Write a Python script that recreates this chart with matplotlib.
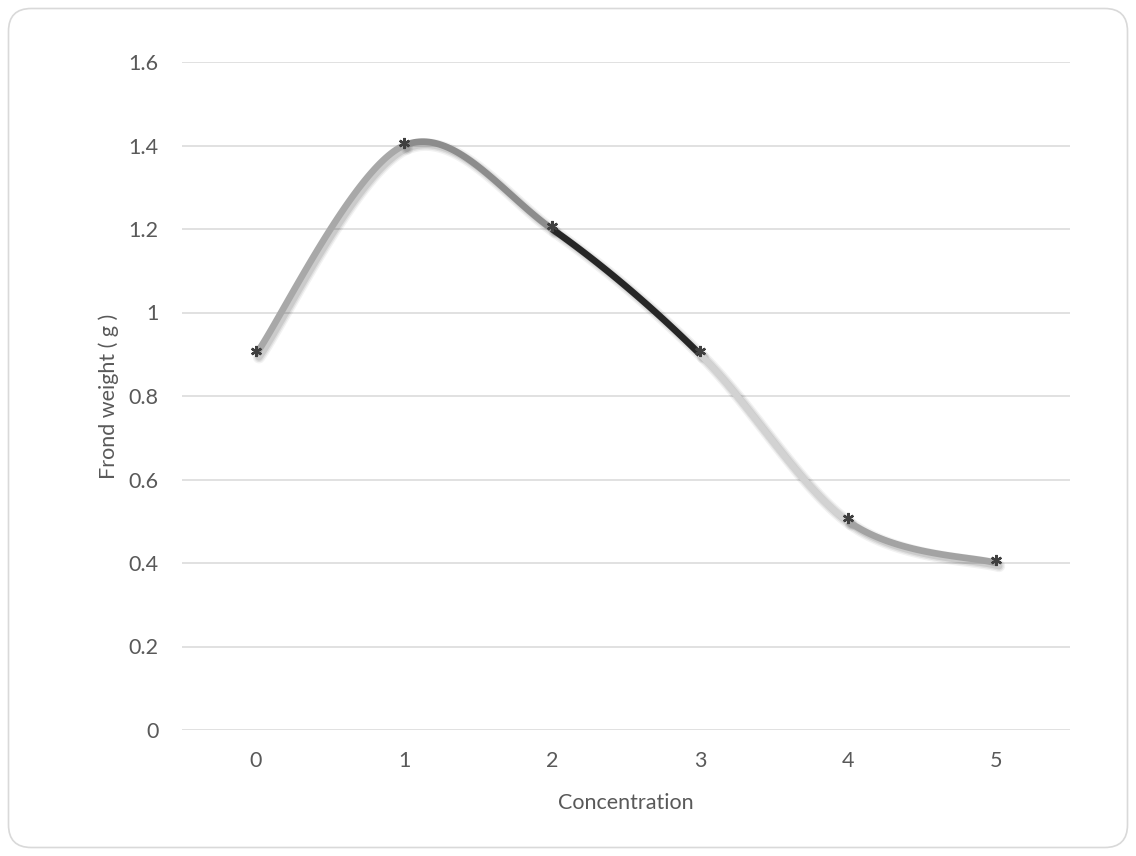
import numpy as np
import matplotlib
matplotlib.use("Agg")
import matplotlib.pyplot as plt
from matplotlib.patches import FancyBboxPatch
from matplotlib.transforms import offset_copy

categories = ["0", "1", "2", "3", "4", "5"]
values = [0.9, 1.4, 1.2, 0.9, 0.5, 0.4]
segment_colors = ["#a8a8a8", "#8c8c8c", "#262626", "#d2d2d2", "#a3a3a3"]
y_ticks = [0, 0.2, 0.4, 0.6, 0.8, 1.0, 1.2, 1.4, 1.6]
y_tick_labels = ["0", "0.2", "0.4", "0.6", "0.8", "1", "1.2", "1.4", "1.6"]

plt.rcParams['font.family'] = ['Lato', 'DejaVu Sans']

W, H = 1136, 856
fig = plt.figure(figsize=(W / 100, H / 100), dpi=100)
fig.patch.set_facecolor("white")

# rounded border
border = FancyBboxPatch((8.5 / W, 8.5 / H), (W - 17) / W, (H - 17) / H,
                        boxstyle="round,pad=0,rounding_size=0.02",
                        transform=fig.transFigure, facecolor="none",
                        edgecolor="#d9d9d9", linewidth=1.2, zorder=-1,
                        mutation_aspect=W / H)
fig.patches.append(border)

ax = fig.add_axes([182 / W, (H - 730) / H, (1070 - 182) / W, (730 - 62) / H])
ax.set_facecolor("none")
x = np.arange(len(categories))
ax.set_xlim(-0.5, len(categories) - 0.5)
ax.set_ylim(0, 1.6)

for s in ax.spines.values():
    s.set_visible(False)
ax.set_yticks(y_ticks)
ax.set_yticklabels(y_tick_labels)
ax.set_xticks(x)
ax.set_xticklabels(categories)
ax.tick_params(length=0, labelsize=15.5, colors="#595959")
ax.tick_params(axis="y", pad=17)
ax.tick_params(axis="x", pad=15)
ax.yaxis.grid(True, color="#d9d9d9", linewidth=1.1)
ax.set_axisbelow(True)

ax.set_xlabel("Concentration", fontsize=15.5, color="#595959", labelpad=16)
ax.set_ylabel("Frond weight ( g )", fontsize=15.5, color="#595959", labelpad=7)

# Excel-style smoothed segments (cubic Bezier, tension 1/6)
pts = np.column_stack([x, values]).astype(float)
n = len(pts)
t = np.linspace(0, 1, 60)[:, None]
for i in range(n - 1):
    p0 = pts[i]
    p3 = pts[i + 1]
    pm = pts[i - 1] if i > 0 else pts[i]
    pp = pts[i + 2] if i + 2 < n else pts[i + 1]
    c1 = p0 + (p3 - pm) / 6.0
    c2 = p3 - (pp - p0) / 6.0
    curve = ((1 - t) ** 3) * p0 + 3 * ((1 - t) ** 2) * t * c1 + 3 * (1 - t) * t ** 2 * c2 + t ** 3 * p3
    # soft shadow
    for lw, a in [(9, 0.05), (7, 0.07), (5, 0.09)]:
        tr = offset_copy(ax.transData, fig=fig, x=3, y=-3, units="dots")
        ax.plot(curve[:, 0], curve[:, 1], color="black", lw=lw, alpha=a,
                solid_capstyle="round", transform=tr, zorder=2)
    ax.plot(curve[:, 0], curve[:, 1], color=segment_colors[i], lw=4.8,
            solid_capstyle="butt", zorder=3)

mtr = offset_copy(ax.transData, fig=fig, x=0, y=3, units="dots")
ax.plot(x, values, linestyle="none", marker=(6, 2, 0), markersize=8,
        markeredgewidth=1.7, color="#404040", transform=mtr, zorder=4)

fig.savefig("out.png", dpi=100)
